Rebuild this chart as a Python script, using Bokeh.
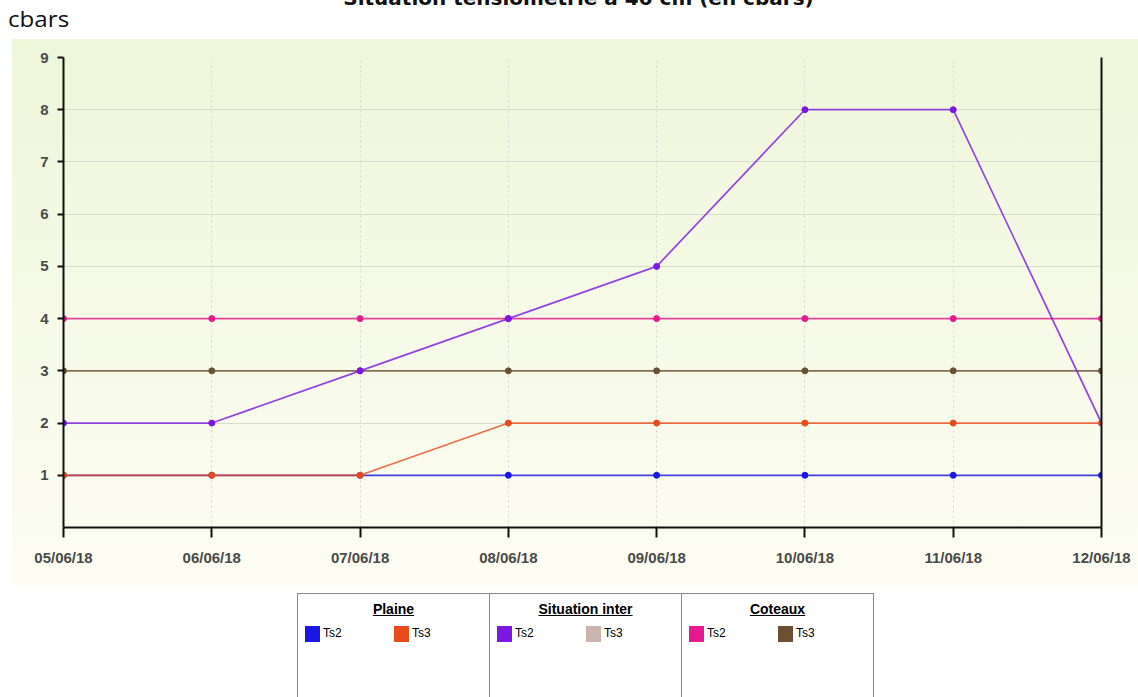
import math
import pandas as pd
from bokeh.plotting import figure
from bokeh.models import (Range1d, FixedTicker, DatetimeTickFormatter, LinearAxis,
                          Div, Spacer, ColumnDataSource)
from bokeh.layouts import column, row
from bokeh.embed import file_html
from bokeh.resources import INLINE

# ---------------- data ----------------
dates = ["05/06/18", "06/06/18", "07/06/18", "08/06/18",
         "09/06/18", "10/06/18", "11/06/18", "12/06/18"]
plaine_ts2 = [1, 1, 1, 1, 1, 1, 1, 1]
plaine_ts3 = [1, 1, 1, 2, 2, 2, 2, 2]
inter_ts2 = [2, 2, 3, 4, 5, 8, 8, 2]
inter_ts3 = [math.nan] * 8          # no reading shown on the chart
coteaux_ts2 = [4, 4, 4, 4, 4, 4, 4, 4]
coteaux_ts3 = [3, 3, 3, 3, 3, 3, 3, 3]
y_ticks = [1, 2, 3, 4, 5, 6, 7, 8, 9]

groups = ["Plaine", "Situation inter", "Coteaux"]
sensors = ["Ts2", "Ts3"]
colors = {
    ("Plaine", "Ts2"): "#1717e6",
    ("Plaine", "Ts3"): "#e84c1c",
    ("Situation inter", "Ts2"): "#7c17e3",
    ("Situation inter", "Ts3"): "#cbb4ac",
    ("Coteaux", "Ts2"): "#e6198f",
    ("Coteaux", "Ts3"): "#6b5033",
}
series = {
    ("Plaine", "Ts2"): plaine_ts2,
    ("Plaine", "Ts3"): plaine_ts3,
    ("Situation inter", "Ts2"): inter_ts2,
    ("Situation inter", "Ts3"): inter_ts3,
    ("Coteaux", "Ts2"): coteaux_ts2,
    ("Coteaux", "Ts3"): coteaux_ts3,
}
draw_order = [("Plaine", "Ts2"), ("Coteaux", "Ts2"), ("Coteaux", "Ts3"),
              ("Situation inter", "Ts3"), ("Situation inter", "Ts2"), ("Plaine", "Ts3")]

title_text = "Situation tensiométrie à 40 cm (en cbars)"
unit_text = "cbars"

# ---------------- header (unit + clipped title) ----------------
header_html = (
    '<div style="position:relative;width:1138px;height:39px;overflow:hidden;background:#ffffff;">'
    '<div style="position:absolute;left:0;right:0;top:-13px;text-align:center;'
    "font-family:'DejaVu Sans';font-weight:bold;font-size:20px;line-height:23px;"
    f'color:#111;padding-left:19px;white-space:nowrap;">{title_text}</div>'
    "<div style=\"position:absolute;left:8px;top:6px;font-family:'Open Sans';"
    'font-size:21px;line-height:26px;color:#111;transform:scaleX(1.15);'
    f'transform-origin:0 0;">{unit_text}</div>'
    '</div>')
header = Div(text=header_html, width=1138, height=39, margin=0,
             styles={"overflow": "hidden"})

# ---------------- main chart ----------------
x = pd.to_datetime(dates, format="%d/%m/%y")
x_ms = [int(t.value // 10**6) for t in x]

p = figure(width=1138, height=546, x_axis_type="datetime",
           output_backend="svg", toolbar_location=None,
           x_range=Range1d(x[0], x[-1]), y_range=Range1d(0, 9),
           min_border_left=63, min_border_right=37,
           min_border_top=18, min_border_bottom=58)
p.border_fill_color = None
p.background_fill_color = None
p.outline_line_color = None
p.styles = {
    "background-image": "linear-gradient(to bottom, #eef6da, #fdfdf3)",
    "background-repeat": "no-repeat",
    "background-position": "12px 0px",
    "background-size": "1126px 546px",
}

# axes
p.xaxis.ticker = FixedTicker(ticks=x_ms)
p.xaxis.formatter = DatetimeTickFormatter(days="%d/%m/%y", months="%d/%m/%y",
                                          hours="%d/%m/%y")
p.yaxis.ticker = FixedTicker(ticks=y_ticks)
for ax in (p.xaxis[0], p.yaxis[0]):
    ax.axis_line_color = "#111111"
    ax.axis_line_width = 2
    ax.major_tick_line_color = "#111111"
    ax.major_tick_line_width = 2
    ax.major_tick_in = 0
    ax.minor_tick_line_color = None
    ax.major_label_text_font = "Liberation Sans"
    ax.major_label_text_font_style = "bold"
    ax.major_label_text_font_size = "15px"
    ax.major_label_text_color = "#4a4a4a"
p.xaxis.major_tick_out = 10
p.xaxis.major_label_standoff = 11
p.yaxis.major_tick_out = 6
p.yaxis.major_label_standoff = 9

right = LinearAxis(ticker=FixedTicker(ticks=[]))
right.axis_line_color = "#111111"
right.axis_line_width = 2
right.major_tick_line_color = None
right.minor_tick_line_color = None
right.major_label_text_font_size = "0px"
p.add_layout(right, "right")

# grids
p.ygrid.ticker = FixedTicker(ticks=y_ticks)
p.ygrid.grid_line_color = "#d9dccd"
p.ygrid.grid_line_width = 1
p.xgrid.ticker = FixedTicker(ticks=x_ms)
p.xgrid.grid_line_color = "#d6d6cf"
p.xgrid.grid_line_dash = "2 3"
p.xgrid.grid_line_width = 1

# series
for key in draw_order:
    src = ColumnDataSource(dict(x=x, y=series[key]))
    col = colors[key]
    p.line("x", "y", source=src, line_color=col, line_width=1.7, line_alpha=0.8)
    p.scatter("x", "y", source=src, size=6, fill_color=col, line_color=col)

# ---------------- legend (HTML) ----------------
cells = []
for g in groups:
    items = ""
    for s in sensors:
        items += (f'<div style="width:89px;display:flex;align-items:center;">'
                  f'<span style="display:inline-block;width:15px;height:16px;'
                  f'background:{colors[(g, s)]};margin-right:3px;"></span>'
                  f'<span>{s}</span></div>')
    cells.append(
        f'<div style="width:192px;height:140px;box-sizing:border-box;'
        f'border-right:1px solid #8a8a8a;padding:7px 0 0 7px;">'
        f'<div style="text-align:center;font-weight:bold;text-decoration:underline;'
        f'font-size:14px;line-height:17px;padding-right:7px;">{g}</div>'
        f'<div style="display:flex;margin-top:7px;">{items}</div></div>')
legend_html = (
    '<div style="display:flex;width:577px;height:140px;box-sizing:border-box;'
    'border-top:1px solid #8a8a8a;border-left:1px solid #8a8a8a;background:#ffffff;'
    "font-family:'Liberation Sans', Arial, sans-serif;font-size:12px;color:#000;\">"
    + "".join(cells) + "</div>")
legend = Div(text=legend_html, width=577, height=104, margin=0,
             styles={"overflow": "hidden"})

layout = column(header, p, Spacer(height=8),
                row(Spacer(width=297), legend))

open("out.html", "w").write(file_html(layout, INLINE))
